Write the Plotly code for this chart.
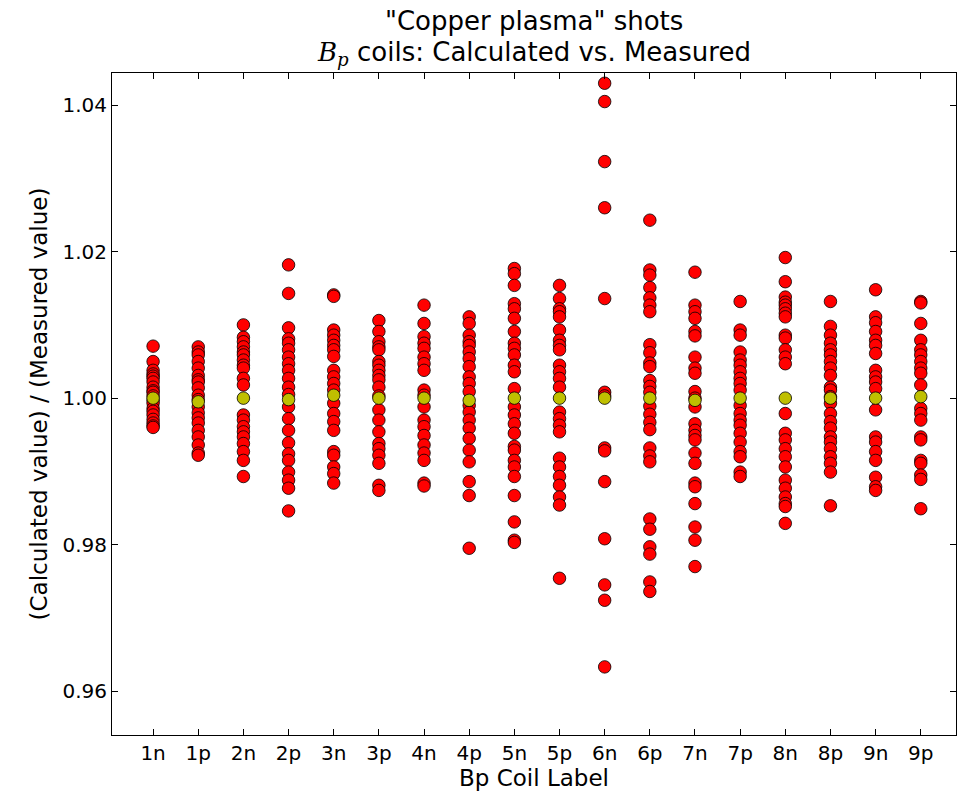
import plotly.graph_objects as go

# coil labels along the x axis
labels = ["1n", "1p", "2n", "2p", "3n", "3p", "4n", "4p", "5n",
          "5p", "6n", "6p", "7n", "7p", "8n", "8p", "9n", "9p"]

# calculated / measured ratio for each shot, per coil
r_1n = [1.0071, 1.0050, 1.0038, 1.0033, 1.0030, 1.0027, 1.0022, 1.0015, 1.0010, 1.0008,
        1.0003, 0.9997, 0.9993, 0.9986, 0.9982, 0.9977, 0.9971, 0.9966, 0.9962, 0.9960]
r_1p = [1.0070, 1.0063, 1.0059, 1.0050, 1.0041, 1.0031, 1.0025, 1.0022, 1.0014, 1.0004,
        0.9998, 0.9988, 0.9980, 0.9973, 0.9966, 0.9956, 0.9947, 0.9936, 0.9925, 0.9922]
r_2n = [1.0100, 1.0083, 1.0077, 1.0070, 1.0063, 1.0059, 1.0052, 1.0045, 1.0041, 1.0027,
        1.0018, 0.9977, 0.9970, 0.9961, 0.9954, 0.9947, 0.9938, 0.9927, 0.9915, 0.9893]
r_2p = [1.0182, 1.0143, 1.0096, 1.0081, 1.0075, 1.0066, 1.0056, 1.0047, 1.0038, 1.0027,
        1.0015, 1.0005, 0.9988, 0.9972, 0.9956, 0.9939, 0.9924, 0.9915, 0.9899, 0.9888,
        0.9877, 0.9846]
r_3n = [1.0141, 1.0139, 1.0093, 1.0086, 1.0079, 1.0072, 1.0066, 1.0057, 1.0038, 1.0029,
        1.0020, 1.0011, 0.9993, 0.9979, 0.9968, 0.9956, 0.9927, 0.9922, 0.9906, 0.9897,
        0.9884]
r_3p = [1.0106, 1.0091, 1.0077, 1.0070, 1.0066, 1.0050, 1.0045, 1.0038, 1.0031, 1.0025,
        1.0015, 1.0003, 0.9984, 0.9970, 0.9954, 0.9938, 0.9931, 0.9922, 0.9911, 0.9881,
        0.9874]
r_4n = [1.0127, 1.0102, 1.0084, 1.0075, 1.0068, 1.0056, 1.0047, 1.0038, 1.0011, 1.0004,
        0.9988, 0.9970, 0.9961, 0.9949, 0.9936, 0.9925, 0.9915, 0.9884, 0.9880]
r_4p = [1.0111, 1.0102, 1.0086, 1.0077, 1.0072, 1.0063, 1.0054, 1.0043, 1.0029, 1.0020,
        1.0009, 0.9990, 0.9981, 0.9970, 0.9959, 0.9945, 0.9929, 0.9913, 0.9886, 0.9867,
        0.9795]
r_5n = [1.0177, 1.0170, 1.0154, 1.0129, 1.0122, 1.0109, 1.0091, 1.0075, 1.0068, 1.0059,
        1.0045, 1.0036, 1.0013, 0.9988, 0.9977, 0.9965, 0.9952, 0.9934, 0.9929, 0.9915,
        0.9906, 0.9893, 0.9867, 0.9831, 0.9806, 0.9803]
r_5p = [1.0154, 1.0136, 1.0122, 1.0118, 1.0111, 1.0093, 1.0079, 1.0072, 1.0066, 1.0045,
        1.0036, 1.0027, 1.0015, 0.9981, 0.9972, 0.9963, 0.9954, 0.9918, 0.9906, 0.9893,
        0.9881, 0.9865, 0.9854, 0.9754]
r_6n = [1.0430, 1.0405, 1.0323, 1.0260, 1.0136, 1.0008, 1.0003, 0.9932, 0.9928, 0.9886,
        0.9808, 0.9745, 0.9724, 0.9633]
r_6p = [1.0243, 1.0175, 1.0168, 1.0151, 1.0137, 1.0127, 1.0118, 1.0073, 1.0062, 1.0048,
        1.0043, 1.0024, 1.0016, 1.0008, 0.9989, 0.9978, 0.9967, 0.9957, 0.9932, 0.9921,
        0.9913, 0.9835, 0.9821, 0.9797, 0.9787, 0.9749, 0.9736]
r_7n = [1.0172, 1.0127, 1.0118, 1.0109, 1.0091, 1.0085, 1.0056, 1.0041, 1.0034, 1.0009,
        1.0000, 0.9988, 0.9965, 0.9956, 0.9949, 0.9943, 0.9925, 0.9911, 0.9884, 0.9879,
        0.9856, 0.9824, 0.9806, 0.9770]
r_7p = [1.0132, 1.0093, 1.0086, 1.0063, 1.0052, 1.0045, 1.0036, 1.0027, 1.0020, 1.0011,
        0.9990, 0.9979, 0.9970, 0.9963, 0.9952, 0.9940, 0.9927, 0.9920, 0.9899, 0.9893]
r_8n = [1.0192, 1.0159, 1.0138, 1.0131, 1.0127, 1.0122, 1.0116, 1.0111, 1.0086, 1.0082,
        1.0066, 1.0056, 1.0047, 0.9979, 0.9952, 0.9943, 0.9931, 0.9920, 0.9906, 0.9888,
        0.9877, 0.9865, 0.9856, 0.9852, 0.9829]
r_8p = [1.0132, 1.0098, 1.0086, 1.0075, 1.0066, 1.0059, 1.0050, 1.0041, 1.0031, 1.0015,
        1.0011, 1.0002, 0.9993, 0.9979, 0.9968, 0.9959, 0.9947, 0.9940, 0.9931, 0.9920,
        0.9911, 0.9899, 0.9853]
r_9n = [1.0148, 1.0111, 1.0103, 1.0091, 1.0079, 1.0072, 1.0061, 1.0038, 1.0029, 1.0022,
        1.0013, 0.9984, 0.9947, 0.9940, 0.9927, 0.9915, 0.9892, 0.9879, 0.9874]
r_9p = [1.0132, 1.0130, 1.0102, 1.0079, 1.0066, 1.0059, 1.0050, 1.0041, 1.0034, 1.0018,
        0.9986, 0.9979, 0.9970, 0.9947, 0.9943, 0.9915, 0.9911, 0.9895, 0.9889, 0.9849]

# mean ratio per coil (yellow markers)
means = [1.0000, 0.9995, 1.0000, 0.9998, 1.0004, 1.0000, 1.0000, 0.9997, 1.0000,
         1.0000, 1.0000, 1.0000, 0.9997, 1.0000, 1.0000, 1.0000, 1.0000, 1.0002]

columns = [r_1n, r_1p, r_2n, r_2p, r_3n, r_3p, r_4n, r_4p, r_5n,
           r_5p, r_6n, r_6p, r_7n, r_7p, r_8n, r_8p, r_9n, r_9p]

fig = go.Figure()
for lab, vals in zip(labels, columns):
    fig.add_trace(go.Scatter(x=[lab] * len(vals), y=vals, mode='markers',
                             marker=dict(color='#ff0000', size=12.5,
                                         line=dict(color='black', width=0.8)),
                             showlegend=False, hoverinfo='y'))
fig.add_trace(go.Scatter(x=labels, y=means, mode='markers',
                         marker=dict(color='#bfbf00', size=12.5,
                                     line=dict(color='black', width=0.8)),
                         showlegend=False, hoverinfo='y'))

font = "DejaVu Sans, Verdana, sans-serif"
fig.add_annotation(text='"Copper plasma" shots', xref='paper', yref='paper',
                   x=0.5, y=1.078, showarrow=False, yanchor='middle',
                   font=dict(size=26, color='black', family=font))
fig.add_annotation(text='<span style="font-family:DejaVu Serif"><i>B</i><sub><i>p</i></sub></span>'
                        ' coils: Calculated vs. Measured',
                   xref='paper', yref='paper', x=0.5, y=1.029, showarrow=False,
                   yanchor='middle', font=dict(size=26, color='black', family=font))

axis_style = dict(showline=True, linecolor='black', linewidth=1, mirror='ticks',
                  ticks='inside', ticklen=6, tickcolor='black', showgrid=False,
                  zeroline=False, automargin=False,
                  tickfont=dict(size=20, color='black', family=font))

fig.update_xaxes(type='category', categoryorder='array', categoryarray=labels,
                 range=[-0.91, 17.78], title=dict(text='Bp Coil Label', standoff=4,
                                                  font=dict(size=23, color='black', family=font)),
                 **axis_style)
fig.update_yaxes(range=[0.954, 1.0444], tickvals=[0.96, 0.98, 1.00, 1.02, 1.04],
                 tickformat='.2f', title=dict(text='(Calculated value) / (Measured value)',
                                              standoff=8,
                                              font=dict(size=23, color='black', family=font)),
                 **axis_style)

fig.update_layout(width=960, height=795, paper_bgcolor='white', plot_bgcolor='white',
                  margin=dict(l=112, r=4, t=73, b=60), font=dict(family=font))

fig.write_html("out.html", config={'displayModeBar': False},
               post_script="document.body.style.margin='0';")
